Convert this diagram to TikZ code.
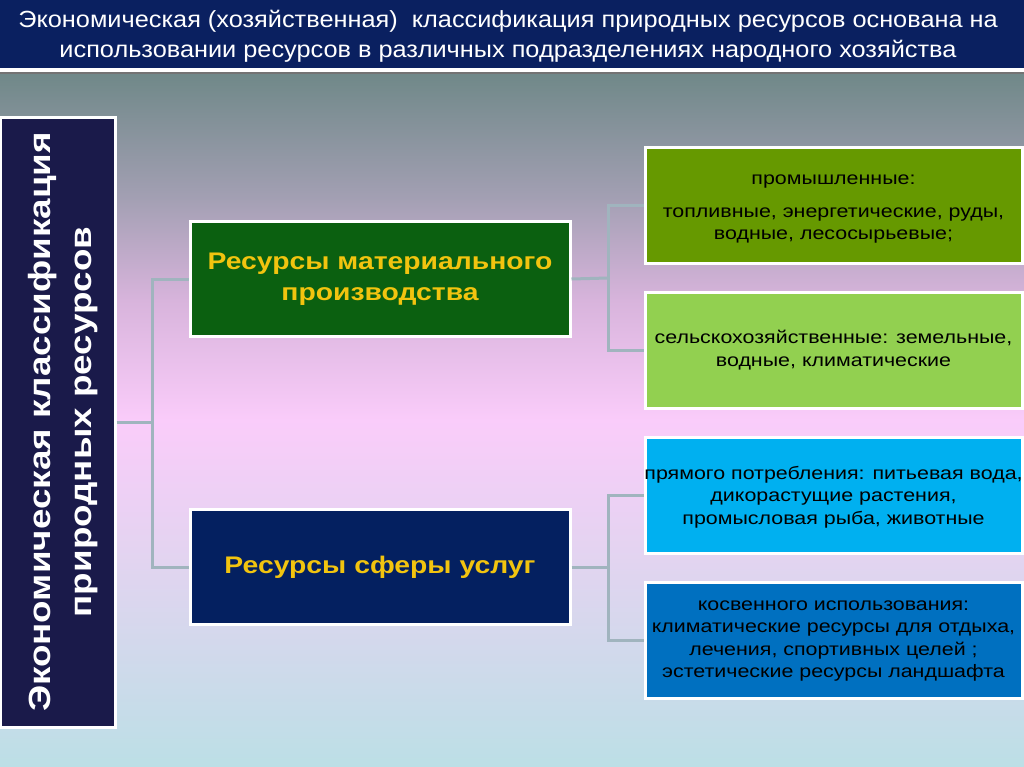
\documentclass[tikz,border=0pt]{standalone}
\usepackage{fontspec}
\setmainfont{Liberation Sans}
\newfontfamily\titlefont[FakeStretch=1.085]{Liberation Sans}
\newfontfamily\bodyfont[FakeStretch=1.19]{Liberation Sans}
\newfontfamily\boldfont[FakeStretch=1.18]{Liberation Sans Bold}
\newfontfamily\sideboldfont[FakeStretch=1.2]{Liberation Sans Bold}
\definecolor{titlebg}{HTML}{0A2060}
\definecolor{leftbg}{HTML}{1A1A4A}
\definecolor{midgreen}{HTML}{0B6010}
\definecolor{midnavy}{HTML}{042060}
\definecolor{boxA}{HTML}{669900}
\definecolor{boxB}{HTML}{92D050}
\definecolor{boxC}{HTML}{00B0F0}
\definecolor{boxD}{HTML}{0070C0}
\definecolor{gold}{HTML}{F2C40F}
\definecolor{connc}{HTML}{A0B4BE}
\definecolor{g1}{HTML}{6F8888}
\definecolor{g2}{HTML}{A4A0B4}
\definecolor{g3}{HTML}{D8B4DC}
\definecolor{g4}{HTML}{FACCFA}
\definecolor{g5}{HTML}{E2D4F0}
\definecolor{g6}{HTML}{BCDFE6}
\begin{document}
\begin{tikzpicture}[x=0.75pt,y=-0.75pt,
  box/.style={draw=white,line width=2.25pt,rectangle,inner sep=0pt},
  midbox/.style={box,minimum width=285pt,minimum height=86.25pt,
    font=\boldfont\fontsize{18}{23.5}\selectfont,text=gold,align=center},
  rbox/.style={box,minimum width=282.75pt,minimum height=87pt,
    font=\bodyfont\fontsize{13.5}{16.8}\selectfont,text=black,align=center},
  rtext/.style={font=\bodyfont\fontsize{13.5}{16.8}\selectfont,align=center,inner sep=0pt},
  conn/.style={draw=connc,line width=2.25pt}]
\useasboundingbox (0,0) rectangle (1024,767);
% background gradient
\fill[top color=g1,bottom color=g2] (0,72) rectangle (1024,201);
\fill[top color=g2,bottom color=g3] (0,200) rectangle (1024,301);
\fill[top color=g3,bottom color=g4] (0,300) rectangle (1024,421);
\fill[top color=g4,bottom color=g5] (0,420) rectangle (1024,561);
\fill[top color=g5,bottom color=g6] (0,560) rectangle (1024,767);
% title bar
\fill[titlebg] (0,0) rectangle (1024,68);
\fill[white] (0,68) rectangle (1024,72);
\fill[black!55] (0,72) rectangle (1024,74);
\node[text=white,align=center,font=\titlefont\fontsize{17.5}{22.5}\selectfont] (T) at (508,36)
  {Экономическая (хозяйственная)\ \ классификация природных ресурсов основана на\\
   использовании ресурсов в различных подразделениях народного хозяйства};
% connectors
\coordinate (j1) at (152,422);
\coordinate (j2) at (608,278);
\coordinate (j3) at (608,567);
% left box
\node[box,fill=leftbg,minimum width=86.25pt,minimum height=457.5pt] (L) at (57.5,422) {};
\node[rotate=90,text=white,align=center,font=\sideboldfont\fontsize{23}{31}\selectfont] (Lt) at (63,422)
  {Экономическая классификация\\природных ресурсов};
% middle boxes
\node[midbox,fill=midgreen] (M1) at (380,279) {Ресурсы материального\\производства};
\node[midbox,fill=midnavy] (M2) at (380,567) {Ресурсы сферы услуг};
% right boxes
\node[rbox,fill=boxA] (A) at (833.5,205) {};
\node[rtext] (At) at (833.5,209) {промышленные:\\[8pt]топливные, энергетические, руды,\\водные, лесосырьевые;};
\node[rbox,fill=boxB] (B) at (833.5,350) {сельскохозяйственные: земельные,\\водные, климатические};
\node[rbox,fill=boxC] (C) at (833.5,495) {};
\node[rtext] (Ct) at (833.5,497) {прямого потребления: питьевая вода,\\дикорастущие растения,\\промысловая рыба, животные};
\node[rbox,fill=boxD] (D) at (833.5,640) {};
\node[rtext] (Dt) at (833.5,641) {косвенного использования:\\климатические ресурсы для отдыха,\\лечения, спортивных целей ;\\эстетические ресурсы ландшафта};
\draw[conn] (L.east) -- (j1);
\draw[conn] (M1.west) -| (j1);
\draw[conn] (M2.west) -| (j1);
\draw[conn] (M1.east) -- (j2);
\draw[conn] (A.west) -| (j2);
\draw[conn] (B.west) -| (j2);
\draw[conn] (M2.east) -- (j3);
\draw[conn] (C.west) -| (j3);
\draw[conn] (D.west) -| (j3);
\end{tikzpicture}
\end{document}
